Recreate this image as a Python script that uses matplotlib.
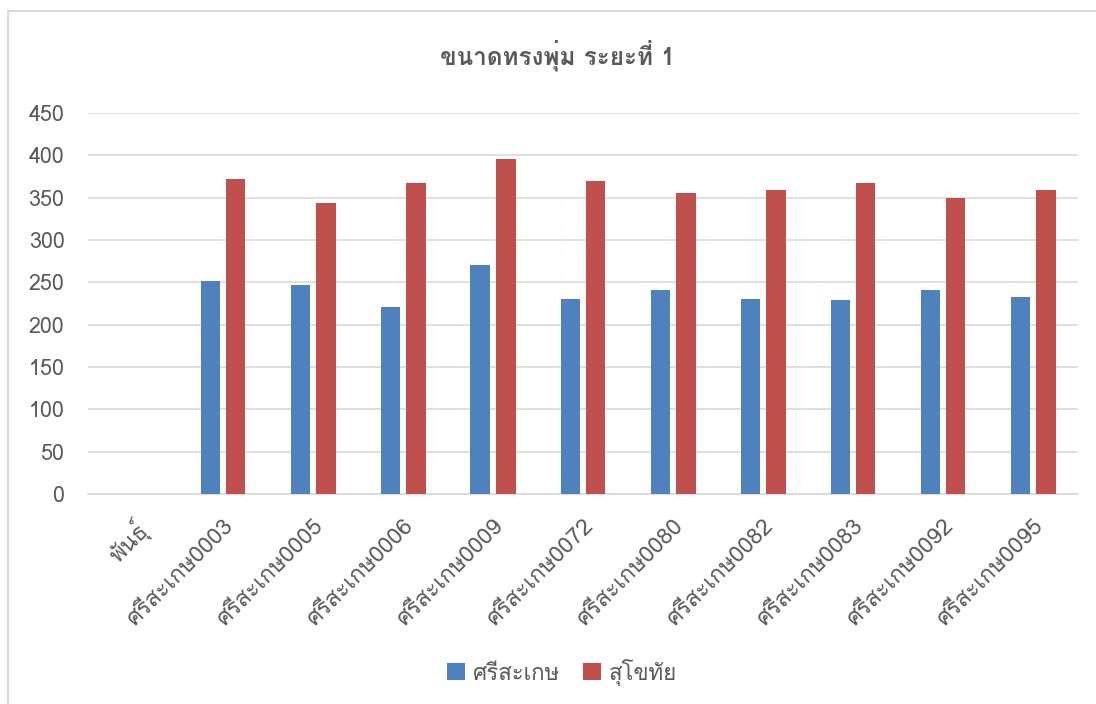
import numpy as np
import matplotlib
matplotlib.use("Agg")
import matplotlib.pyplot as plt
from matplotlib import font_manager
from matplotlib.patches import Rectangle
from fontTools.ttLib import TTFont

categories = ["พันธุ์", "ศรีสะเกษ0003", "ศรีสะเกษ0005", "ศรีสะเกษ0006", "ศรีสะเกษ0009",
              "ศรีสะเกษ0072", "ศรีสะเกษ0080", "ศรีสะเกษ0082", "ศรีสะเกษ0083",
              "ศรีสะเกษ0092", "ศรีสะเกษ0095"]
sisaket = [np.nan, 251, 247, 221, 270, 230, 241, 230, 229, 241, 233]
sukhothai = [np.nan, 372, 344, 367, 396, 370, 355, 359, 367, 350, 359]
series_names = ["ศรีสะเกษ", "สุโขทัย"]
title = "ขนาดทรงพุ่ม ระยะที่ 1"
yticks = [0, 50, 100, 150, 200, 250, 300, 350, 400, 450]


def thai_family():
    # pick an installed family that actually has Thai glyphs
    for f in font_manager.fontManager.ttflist:
        try:
            cmap = TTFont(f.fname, fontNumber=0, lazy=True).getBestCmap()
        except Exception:
            continue
        if cmap and 0x0E01 in cmap and 0x0E29 in cmap:
            return f.name
    return None


fam = thai_family()
families = ([fam] if fam else []) + ["DejaVu Sans"]
plt.rcParams["font.family"] = families

grey = "#595959"
blue = "#4f81bd"
red = "#c0504d"

fig = plt.figure(figsize=(10.96, 7.04), dpi=100)
ax = fig.add_axes([88 / 1096, 1 - 494 / 704, 990 / 1096, 381 / 704])

x = np.arange(len(categories))
w = 0.222
off = 0.139
ax.bar(x - off, sisaket, w, color=blue, label=series_names[0], zorder=3)
ax.bar(x + off, sukhothai, w, color=red, label=series_names[1], zorder=3)

ax.set_xlim(-0.5, len(categories) - 0.5)
ax.set_ylim(0, 450)
ax.set_yticks(yticks)
ax.yaxis.grid(True, color="#d9d9d9", linewidth=1.2, zorder=0)
for s in ["top", "right", "left"]:
    ax.spines[s].set_visible(False)
ax.spines["bottom"].set_color("#d9d9d9")
ax.spines["bottom"].set_linewidth(1.2)
ax.tick_params(axis="both", length=0, colors=grey, labelsize=15.5)
ax.tick_params(axis="y", pad=17)
ax.set_xticks(x)
ax.set_xticklabels(categories, rotation=45, ha="right", va="top",
                   rotation_mode="anchor", fontsize=16.5)
ax.tick_params(axis="x", pad=15)

fig.text(0.509, 1 - 55 / 704, title, ha="center", va="center",
         fontsize=17.5, fontweight="bold", color=grey)

ax.legend(loc="center", bbox_to_anchor=(0.513, 1 - 672 / 704), bbox_transform=fig.transFigure,
          ncol=2, frameon=False, fontsize=16, labelcolor=grey,
          handlelength=0.8, handleheight=0.8, handletextpad=0.35, columnspacing=1.05)

# chart area border
fig.add_artist(Rectangle((8 / 1096, -0.1), 1.2, 1 - 11 / 704 + 0.1,
                         transform=fig.transFigure, fill=False,
                         edgecolor="#d9d9d9", linewidth=1.5))

fig.savefig("out.png", dpi=100)
